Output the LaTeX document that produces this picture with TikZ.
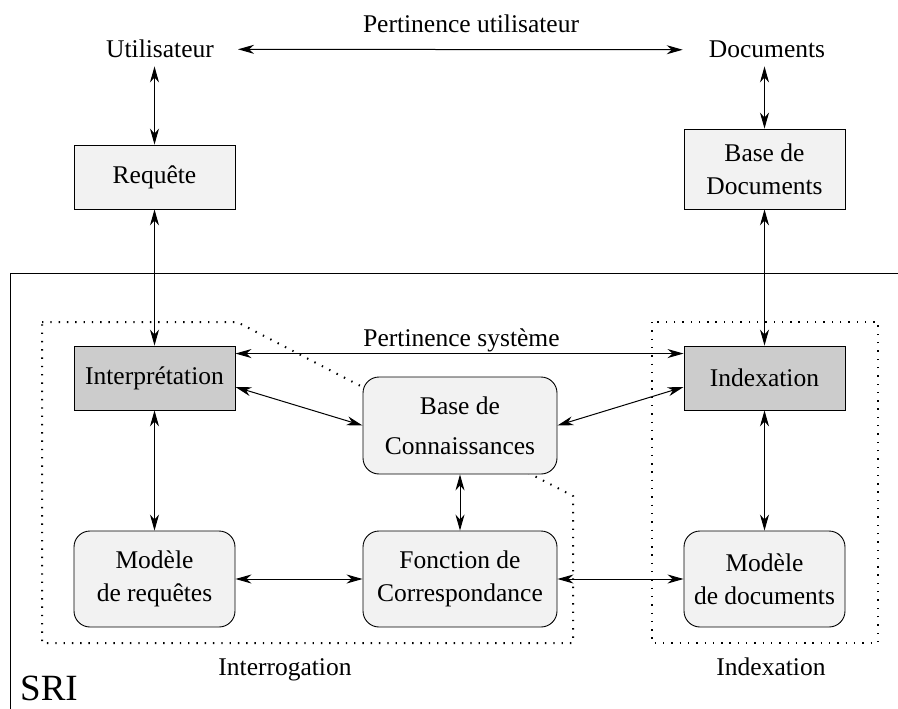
\documentclass[tikz,border=0pt]{standalone}
\usepackage{fontspec}
\setmainfont{Liberation Serif}
\usetikzlibrary{arrows.meta}
\definecolor{light}{HTML}{F2F2F2}
\definecolor{dark}{HTML}{CCCCCC}
\begin{document}
\begin{tikzpicture}[x=1pt,y=-1pt,
  every node/.style={font=\fontsize{25.5}{33}\selectfont},
  txt/.style={inner sep=0pt, anchor=base},
  box/.style={draw, line width=0.9pt, minimum width=161pt, inner sep=0pt, align=center},
  lbox/.style={box, fill=light},
  dbox/.style={box, fill=dark, minimum height=64pt},
  rbox/.style={box, fill=light, rounded corners=16pt, minimum height=96pt},
  tip/.tip={Stealth[length=16pt,width=9pt,inset=5pt]},
  con/.style={line width=1pt, tip-tip},
  zone/.style={line width=2pt, dash pattern=on 1.4pt off 6.9pt},
  frame/.style={line width=0.9pt}
]
\useasboundingbox (0,0) rectangle (898,709);

% SRI frame
\draw[frame] (898,273) -- (10,273) -- (10,709);
\node[txt, anchor=base west, font=\fontsize{37}{40}\selectfont] (sri) at (20,700) {SRI};

% dotted zones
\draw[zone] (42,322) -- (237,322) -- (573,496) -- (573,643) -- (42,643) -- cycle;
\draw[zone] (652,322) rectangle (878,643);

% top texts
\node[txt] (util) at (160,58) {Utilisateur};
\node[txt] (docs) at (767,58) {Documents};
\node[txt] (pu) at (471,33) {Pertinence utilisateur};

% boxes
\node[lbox, minimum height=64pt] (req) at (154.5,177) {Requête};
\node[lbox, minimum height=80pt] (bdoc) at (764.5,169) {Base de\\Documents};
\node[dbox] (interp) at (154.5,378) {Interprétation};
\node[dbox] (index) at (764.5,378) {Indexation};
\node[rbox, minimum width=194pt, minimum height=97pt, font=\fontsize{25.5}{40}\selectfont] (bdc) at (460,425.5) {Base de\\Connaissances};
\node[rbox] (modreq) at (154.5,579) {Modèle\\de requêtes};
\node[rbox, minimum width=194pt] (fonc) at (460,579) {Fonction de\\Correspondance};
\node[rbox] (moddoc) at (764.5,579) {Modèle\\de documents};

% labels
\node[txt] (ps) at (461.5,346) {Pertinence système};
\node[txt] (interr) at (285,675) {Interrogation};
\node[txt] (indexl) at (771,675) {Indexation};

% connectors
\draw[con, shorten <=24pt, shorten >=26pt] (util.east) -- (docs.west);
\draw[con, shorten <=8pt] (req.north |- util.south) -- (req.north);
\draw[con, shorten <=8pt] (bdoc.north |- docs.south) -- (bdoc.north);
\draw[con] (req.south) -- (interp.north);
\draw[con] (bdoc.south) -- (index.north);
\draw[con] ([yshift=-8pt]interp.north east) -- ([yshift=-8pt]index.north west);
\draw[con] ([yshift=-9pt]interp.east) -- (bdc.west);
\draw[con] ([yshift=-9pt]index.west) -- (bdc.east);
\draw[con] (interp.south) -- (modreq.north);
\draw[con] (index.south) -- (moddoc.north);
\draw[con] (bdc.south) -- (fonc.north);
\draw[con] (modreq.east) -- (fonc.west);
\draw[con] (fonc.east) -- (moddoc.west);
\end{tikzpicture}
\end{document}
